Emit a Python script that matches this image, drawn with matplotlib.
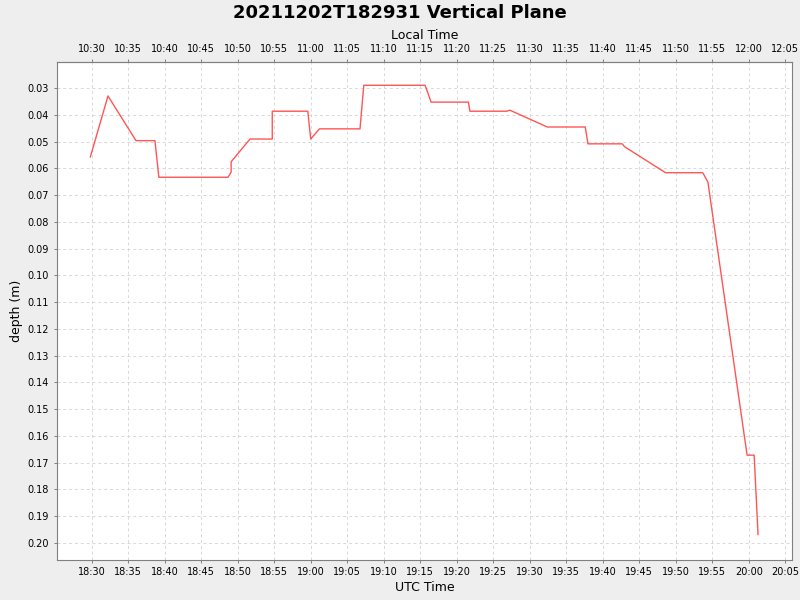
import numpy as np
import matplotlib.pyplot as plt
import matplotlib.dates as mdates
import matplotlib.ticker as mticker
from datetime import datetime, timedelta

# --- DATA (UTC time, depth in metres) ---
utc_times = [
    "18:29:49", "18:32:14", "18:36:04", "18:38:40", "18:39:12", "18:48:40",
    "18:49:06", "18:49:06", "18:51:41", "18:54:44", "18:54:44", "18:59:36",
    "19:00:00", "19:01:12", "19:06:45", "19:07:16", "19:15:40", "19:16:29",
    "19:21:36", "19:21:48", "19:26:51", "19:27:16", "19:32:24", "19:37:36",
    "19:37:58", "19:42:40", "19:43:00", "19:48:36", "19:53:42", "19:54:24",
    "19:59:46", "20:00:44", "20:01:16",
]
depths = [
    0.0557, 0.0329, 0.0496, 0.0496, 0.0633, 0.0633,
    0.0614, 0.0575, 0.0490, 0.0490, 0.0386, 0.0386,
    0.0490, 0.0452, 0.0452, 0.0289, 0.0289, 0.0352,
    0.0352, 0.0386, 0.0386, 0.0382, 0.0445, 0.0445,
    0.0508, 0.0508, 0.0519, 0.0616, 0.0616, 0.0651,
    0.1672, 0.1672, 0.1969,
]
depth_ticks = np.round(np.arange(0.03, 0.201, 0.01), 2)
local_offset_hours = -8

day = "2021-12-02 "
t = [datetime.strptime(day + s, "%Y-%m-%d %H:%M:%S") for s in utc_times]

# --- PLOT ---
bg = "#eeeeee"
fig = plt.figure(figsize=(8, 6), dpi=100, facecolor=bg)
ax = fig.add_axes([57 / 800, 40 / 600, 735 / 800, 498 / 600])
ax.set_facecolor("white")

ax.plot(t, depths, color="#ff5555", lw=1.0)

x0 = datetime(2021, 12, 2, 18, 25, 15)
x1 = datetime(2021, 12, 2, 20, 5, 55)
ax.set_xlim(x0, x1)
ax.set_ylim(0.2064, 0.0202)

ax.xaxis.set_major_locator(mdates.MinuteLocator(byminute=range(0, 60, 5)))
ax.xaxis.set_major_formatter(mdates.DateFormatter("%H:%M"))
ax.yaxis.set_major_locator(mticker.FixedLocator(depth_ticks))
ax.yaxis.set_major_formatter(mticker.FormatStrFormatter("%.2f"))

ax.grid(True, color="#d8d8d8", ls=(0, (3, 3)), lw=0.7)
for s in ax.spines.values():
    s.set_color("#808080")
ax.tick_params(axis="both", length=2, width=0.7, color="#808080",
               labelsize=7, pad=3)
ax.tick_params(axis="y", pad=4)

# top axis in local time
off = local_offset_hours / 24.0
top = ax.secondary_xaxis("top", functions=(lambda x: x + off, lambda x: x - off))
top.xaxis.set_major_locator(mdates.MinuteLocator(byminute=range(0, 60, 5)))
top.xaxis.set_major_formatter(mdates.DateFormatter("%H:%M"))
top.tick_params(length=2, width=0.7, color="#808080", labelsize=7, pad=4)
top.spines["top"].set_color("#808080")
top.set_xlabel("Local Time", fontsize=9, labelpad=3)

ax.set_xlabel("UTC Time", fontsize=9, labelpad=3)
ax.set_ylabel("depth (m)", fontsize=9, labelpad=3)
fig.suptitle("20211202T182931 Vertical Plane", fontsize=13, fontweight="bold", y=0.993)

fig.savefig("out.png", dpi=100, facecolor=bg)
